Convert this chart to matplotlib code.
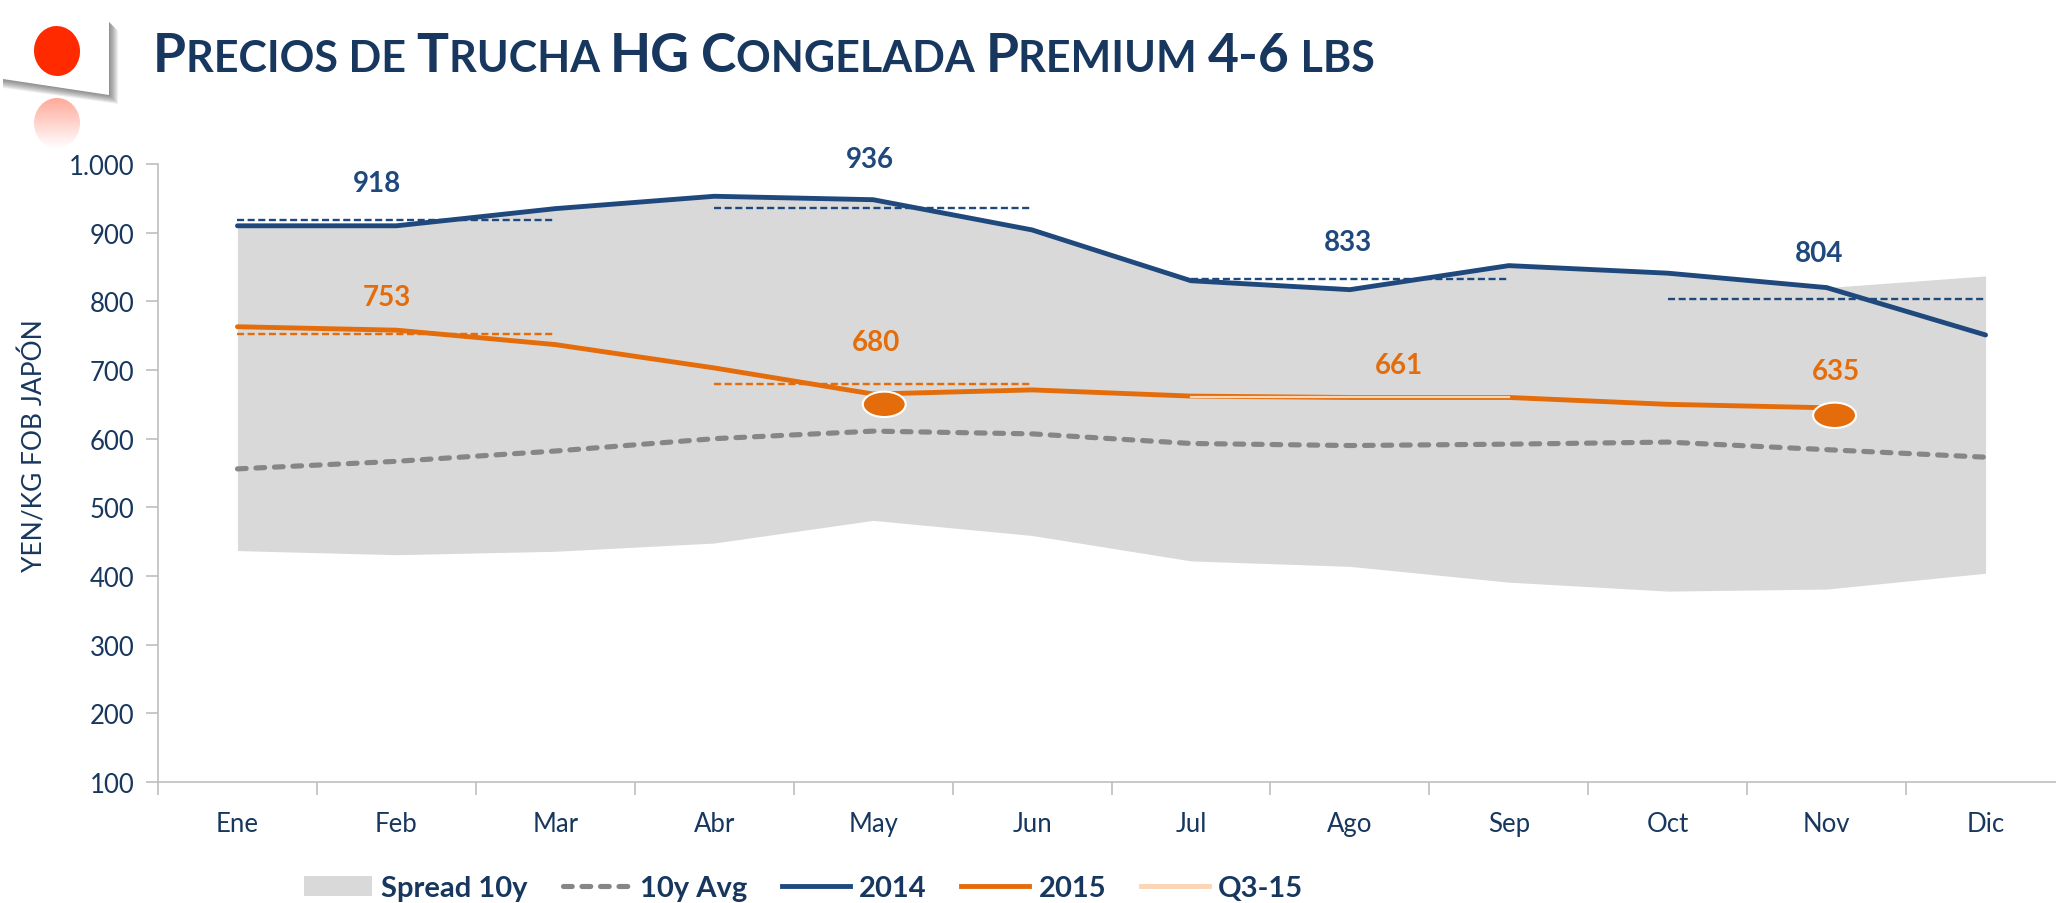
#!/usr/bin/env python
# precios de trucha HG congelada, yen/kg fob japon
import matplotlib
matplotlib.use('Agg')
import numpy as np
import matplotlib.pyplot as plt
from matplotlib.patches import Ellipse, Polygon, Patch
from matplotlib.lines import Line2D

plt.rcParams['font.family'] = ['Lato', 'DejaVu Sans']

months = ['Ene', 'Feb', 'Mar', 'Abr', 'May', 'Jun', 'Jul', 'Ago', 'Sep', 'Oct', 'Nov', 'Dic']
y2014 = [910, 910, 935, 953, 948, 904, 830, 817, 852, 841, 820, 751]
y2015 = [763, 758, 737, 703, 665, 671, 662, 660, 660, 650, 645]
avg10 = [556, 567, 582, 600, 611, 607, 593, 590, 592, 595, 584, 573]
spread_low = [437, 431, 436, 448, 481, 459, 422, 414, 391, 378, 381, 404]
spread_high = [910, 910, 935, 953, 948, 904, 830, 817, 852, 841, 820, 837]

# quarter averages: first month, last month, value
q2014 = [(0, 2, 918), (3, 5, 936), (6, 8, 833), (9, 11, 804)]
q2015 = [(0, 2, 753), (3, 5, 680)]
q3_15 = (6, 8, 661)

# labels: x, y, text
lab2014 = [(0.875, 973, '918'), (3.98, 1007, '936'), (6.99, 886, '833'), (9.95, 870, '804')]
lab2015 = [(0.94, 807, '753'), (4.02, 741, '680'), (7.31, 708, '661'), (10.06, 699, '635')]
# orange dots
dot_x = [4.07, 10.05]
dot_y = [650, 634]

navy = '#17375E'
blue = '#1F497D'
orange = '#E46C0A'
peach = '#FCD5B5'
grey = '#868686'
fill = '#D9D9D9'
W, H = 2056, 904
avg_dash = (1.7, 1.9)

fig = plt.figure(figsize=(W / 100, H / 100), dpi=100)
# axes runs past the right edge of the picture, like the slide crop
ax = fig.add_axes([158 / W, 1 - 783 / H, 1907 / W, 618 / H])
x = np.arange(12)

ax.fill_between(x, spread_low, spread_high, color=fill, lw=0, zorder=1)
ax.plot(x, avg10, color=grey, lw=3.7, dashes=avg_dash, dash_capstyle='round', zorder=2)
for a, b, v in q2014:
    ax.plot([a, b], [v, v], color=blue, lw=1.7, dashes=(3, 1.5), zorder=3)
for a, b, v in q2015:
    ax.plot([a, b], [v, v], color=orange, lw=1.7, dashes=(3, 1.5), zorder=3)
ax.plot(x, y2014, color=blue, lw=3.5, solid_capstyle='round', zorder=4)
ax.plot(x[:len(y2015)], y2015, color=orange, lw=3.5, solid_capstyle='round', zorder=4)
ax.plot([q3_15[0], q3_15[1]], [q3_15[2], q3_15[2]], color=peach, lw=1.6, zorder=5)

for dx, dy in zip(dot_x, dot_y):
    ax.add_patch(Ellipse((dx, dy), 0.27, 37, fc=orange, ec='white', lw=1.5, zorder=6))

for lx, ly, t in lab2014:
    ax.text(lx, ly, t, color=blue, fontsize=20, fontweight='bold', ha='center', va='center', zorder=7)
for lx, ly, t in lab2015:
    ax.text(lx, ly, t, color=orange, fontsize=20, fontweight='bold', ha='center', va='center', zorder=7)

ax.set_xlim(-0.5, 11.5)
ax.set_ylim(100, 1000)
ax.set_yticks(range(100, 1001, 100))
ax.set_yticklabels(['100', '200', '300', '400', '500', '600', '700', '800', '900', '1.000'])
ax.set_xticks(np.arange(-0.5, 12, 1))
ax.set_xticklabels([])
ax.set_xticks(x, minor=True)
ax.set_xticklabels(months, minor=True)
ax.tick_params(axis='x', which='major', length=9, width=1.2, color='#BFBFBF')
ax.tick_params(axis='x', which='minor', length=0, pad=21, labelsize=18.5, labelcolor=navy)
ax.tick_params(axis='y', length=9, width=1.2, color='#BFBFBF', pad=8, labelsize=18.5, labelcolor=navy)
for s in ['top', 'right']:
    ax.spines[s].set_visible(False)
for s in ['left', 'bottom']:
    ax.spines[s].set_color('#BFBFBF')
    ax.spines[s].set_linewidth(1.2)

fig.text(34 / W, 1 - 446 / H, 'YEN/KG FOB JAPÓN', rotation=90, color=navy, fontsize=19,
         ha='center', va='center')

handles = [Patch(fc=fill, ec='none'),
           Line2D([], [], color=grey, lw=3.7, dashes=avg_dash, dash_capstyle='round'),
           Line2D([], [], color=blue, lw=3.5),
           Line2D([], [], color=orange, lw=3.5),
           Line2D([], [], color=peach, lw=3.5)]
names = ['Spread 10y', '10y Avg', '2014', '2015', 'Q3-15']
leg = fig.legend(handles, names, loc='center left', bbox_to_anchor=(304 / W, 1 - 889 / H), ncols=5,
                 frameon=False, handlelength=2.33, handletextpad=0.31, columnspacing=1.2,
                 borderpad=0, borderaxespad=0, prop={'size': 21, 'weight': 'bold'})
for t in leg.get_texts():
    t.set_color(navy)

# flag in pixel coordinates
over = fig.add_axes([0, 0, 1, 1], zorder=-1)
over.set_xlim(0, W)
over.set_ylim(H, 0)
over.axis('off')
for i in range(7):
    off = 1 + i * 1.3
    over.add_patch(Polygon([(3, 80 + off), (109 + off, 96 + off), (109 + off, 23 + off), (109, 23), (3, 80)],
                           fc='#404040', ec='none', alpha=0.11))
over.add_patch(Polygon([(3, 10), (109, 23), (109, 96), (3, 80)], fc='white', ec='none'))
over.add_patch(Ellipse((57, 52), 46, 50, angle=-6, fc='#FF2A00', ec='none'))
# reflection fades out downward
grad = np.linspace(0.4, 0, 64).reshape(-1, 1)
rgba = np.zeros((64, 1, 4))
rgba[..., 0] = 1.0
rgba[..., 1] = 0.16
rgba[..., 2] = 0.0
rgba[..., 3] = grad
im = over.imshow(rgba, extent=(30, 84, 150, 99), aspect='auto')
im.set_clip_path(Ellipse((57, 124), 46, 50, transform=over.transData))
over.set_xlim(0, W)
over.set_ylim(H, 0)

# small caps title: capitals bigger, the rest smaller, placed piece by piece
title = 'Precios de Trucha HG Congelada Premium 4-6 lbs'
big = 38.5
small = 31
renderer = fig.canvas.get_renderer()
xpos = 153.0
base = 1 - 72.5 / H


def width(s, size):
    t = fig.text(0, 0, s, fontsize=size, fontweight='bold')
    w = t.get_window_extent(renderer).width
    t.remove()
    return w


pieces = []
for ch in title:
    tall = ch.isupper() or ch.isdigit() or ch == '-'
    size = big if tall else small
    if pieces and pieces[-1][1] == size:
        pieces[-1][0] += ch.upper()
    else:
        pieces.append([ch.upper(), size])
for s, size in pieces:
    fig.text(xpos / W, base, s, fontsize=size, fontweight='bold', color=navy, va='baseline')
    # measure with a closing bar so that trailing spaces count
    xpos += width(s + '|', size) - width('|', size)

plt.savefig('out.png', dpi=100)
